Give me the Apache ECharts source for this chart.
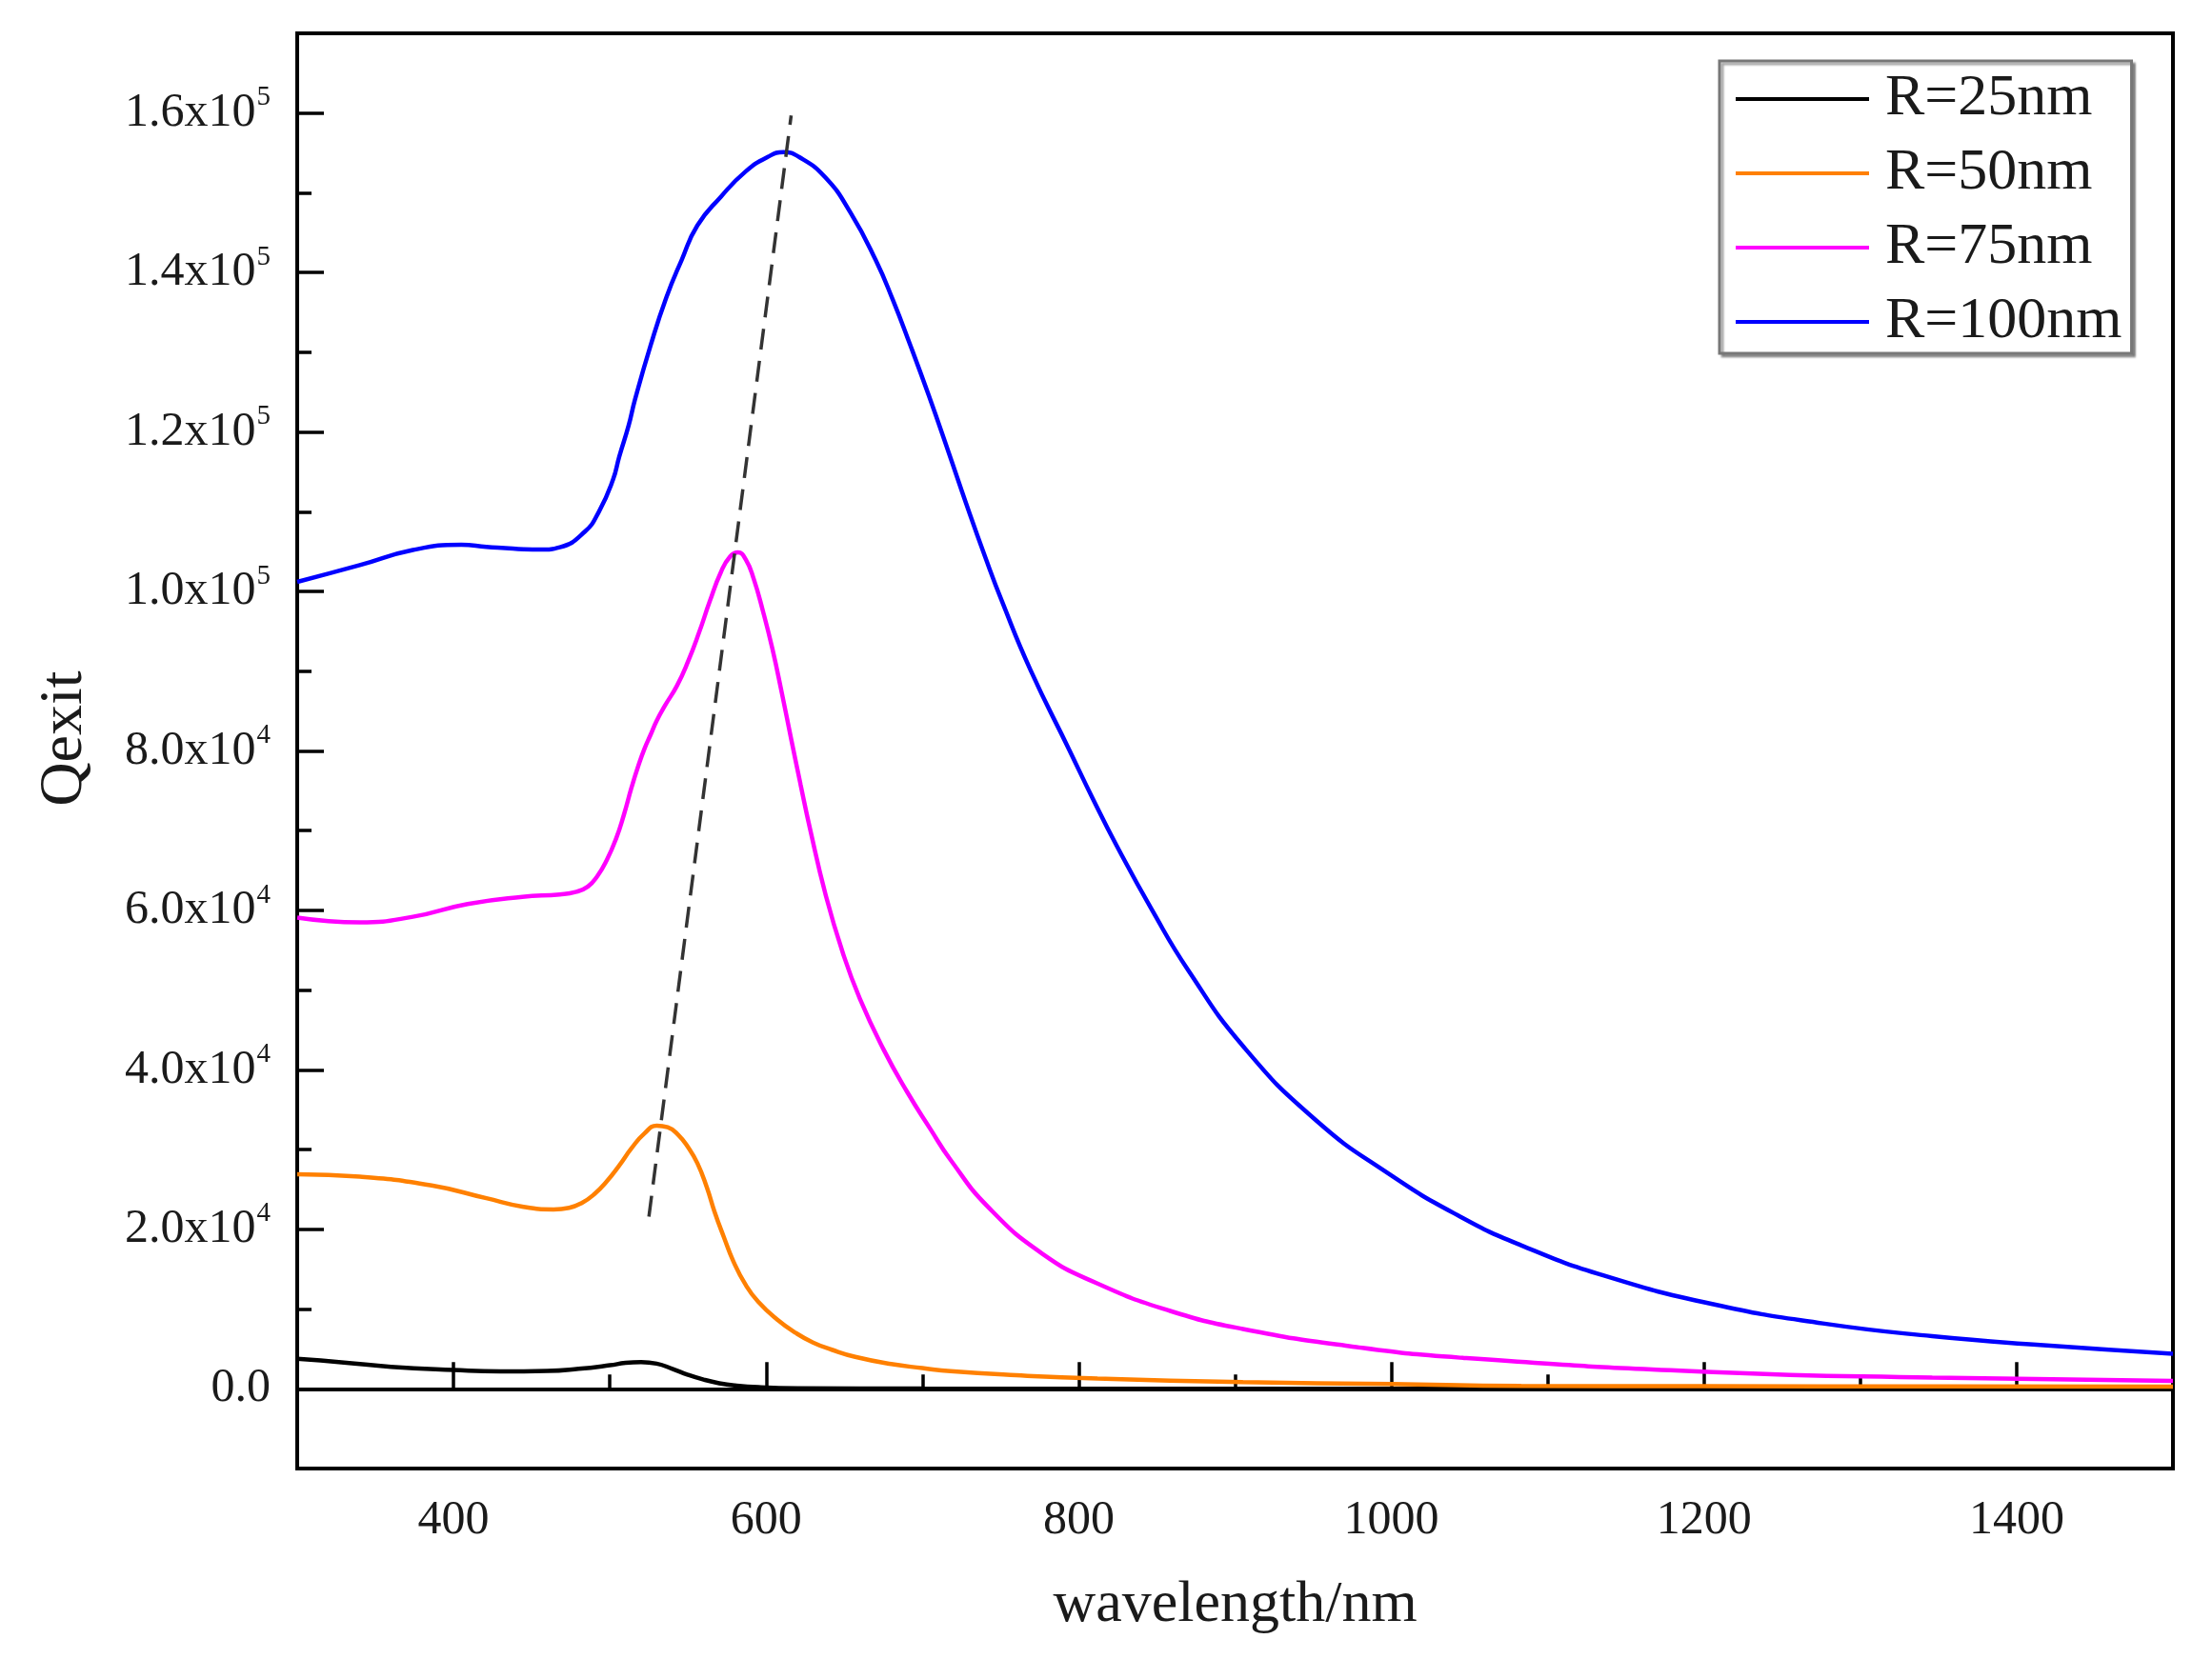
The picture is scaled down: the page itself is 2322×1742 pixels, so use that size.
<!DOCTYPE html>
<html>
<head>
<meta charset="utf-8">
<title>Qexit vs wavelength</title>
<script src="https://cdn.jsdelivr.net/npm/echarts@6/dist/echarts.min.js"></script>
<style>
  html, body { margin: 0; padding: 0; background: #fff; }
  #main { width: 2322px; height: 1742px; }
</style>
</head>
<body>
<div id="main"></div>
<script>
// values
var wl25 = [300, 330, 360, 400, 430, 460, 480, 500, 510, 520, 530, 540, 550, 560, 570, 580, 595, 620, 700, 800, 1000, 1500];
var q25 = [3760, 3300, 2750, 2350, 2170, 2230, 2500, 2950, 3250, 3350, 3150, 2500, 1750, 1150, 700, 420, 200, 70, 20, 10, 5, 0];

var wl50 = [300, 340, 386, 421, 444, 464, 474, 482, 490, 498, 506, 514, 522, 530, 537, 544, 550, 556, 562, 567, 573, 579, 587, 595, 607, 619, 630, 642, 657, 680, 700, 718, 760, 812, 905, 1000, 1083, 1200, 1350, 1500];
var q50 = [26900, 26600, 25500, 23900, 22850, 22500, 22700, 23300, 24400, 26000, 28000, 30200, 32000, 33000, 32800, 31800, 30300, 28300, 25300, 22200, 19000, 16000, 13000, 10900, 8700, 7000, 5800, 4900, 4000, 3100, 2600, 2200, 1700, 1280, 840, 600, 360, 330, 300, 280];

var wl75 = [300, 340, 374, 409, 444, 468, 478, 486, 492, 498, 504, 509, 514, 518, 522, 526, 530, 535, 543, 550, 557, 564, 571, 577, 582, 587, 592, 598, 604, 610, 616, 622, 628, 638, 649, 660, 675, 690, 705, 718, 742, 777, 812, 858, 905, 975, 1044, 1206, 1346, 1500];
var q75 = [59100, 58500, 59200, 60800, 61700, 62000, 62300, 63000, 64300, 66300, 69000, 72000, 75500, 78000, 80200, 82000, 83800, 85600, 88200, 91200, 94800, 98800, 102400, 104400, 104900, 104000, 101600, 97500, 92800, 87300, 81500, 75800, 70300, 62000, 54700, 48900, 42600, 37300, 32600, 28700, 22800, 16900, 13200, 9800, 7500, 5300, 3900, 2100, 1400, 1000];

var wl100 = [300, 340, 374, 405, 421, 433, 445, 456, 468, 484, 493, 502, 506, 512, 516, 526, 536, 546, 556, 571, 587, 601, 611, 621, 638, 654, 670, 681, 692, 704, 717, 728, 740, 751, 769, 794, 809, 824, 847, 870, 905, 951, 998, 1044, 1083, 1136, 1206, 1276, 1346, 1415, 1500];
var q100 = [101200, 103300, 105200, 105850, 105600, 105450, 105300, 105260, 105550, 107500, 110000, 114000, 116900, 120800, 124000, 130800, 136800, 141600, 145900, 149500, 152700, 154500, 155100, 154500, 151900, 147500, 141600, 136600, 131000, 124600, 117300, 111000, 104400, 98700, 90200, 80100, 74000, 68200, 60000, 52500, 43000, 33800, 27000, 21600, 18000, 14200, 10600, 8200, 6600, 5500, 4400];

// dashed guide through the peaks
var guideWl = [525, 616];
var guideQ = [21600, 159700];

var seriesNames = ['R=25nm', 'R=50nm', 'R=75nm', 'R=100nm'];
var seriesColors = ['#000000', '#ff8000', '#ff00ff', '#0000ff'];

var xMajorTicks = [400, 600, 800, 1000, 1200, 1400];
var xMinorTicks = [500, 700, 900, 1100, 1300];
var yMajorTicks = [0, 20000, 40000, 60000, 80000, 100000, 120000, 140000, 160000];
var yMinorTicks = [10000, 30000, 50000, 70000, 90000, 110000, 130000, 150000];
var yTickMantissa = ['0.0', '2.0x10', '4.0x10', '6.0x10', '8.0x10', '1.0x10', '1.2x10', '1.4x10', '1.6x10'];
var yTickExp = ['', '4', '4', '4', '4', '5', '5', '5', '5'];

var pairs = function (xs, ys) {
  return xs.map(function (x, i) { return [x, ys[i]]; });
};

var FONT = '"Liberation Serif", "Times New Roman", serif';
var TXT = '#1a1a1a';

var curveData = [pairs(wl25, q25), pairs(wl50, q50), pairs(wl75, q75), pairs(wl100, q100)];

var series = curveData.map(function (d, i) {
  return {
    name: seriesNames[i],
    type: 'line',
    data: d,
    symbol: 'none',
    showSymbol: false,
    smooth: 0.5,
    lineStyle: { color: seriesColors[i], width: 4.5 },
    itemStyle: { color: seriesColors[i] },
    z: 3 + i
  };
});

series.push({
  name: 'guide',
  type: 'line',
  data: pairs(guideWl, guideQ),
  symbol: 'none',
  lineStyle: { color: '#333', width: 3.5, type: [22, 12] },
  z: 10
});

var chart = echarts.init(document.getElementById('main'));

chart.setOption({
  backgroundColor: '#fff',
  animation: false,
  grid: {
    left: 312, top: 35, width: 1969, height: 1507,
    show: true, borderColor: '#000', borderWidth: 4, backgroundColor: 'transparent'
  },
  legend: {
    data: seriesNames,
    orient: 'vertical',
    left: 1805,
    top: 64,
    padding: [9, 10, 2, 17],
    itemGap: 16,
    itemWidth: 140,
    itemHeight: 4,
    icon: 'rect',
    backgroundColor: '#fff',
    borderColor: '#777',
    borderWidth: 3,
    borderRadius: 0,
    shadowColor: 'rgba(0,0,0,0.35)',
    shadowOffsetX: 3,
    shadowOffsetY: 3,
    shadowBlur: 2,
    textStyle: { fontFamily: FONT, fontSize: 62, color: TXT, padding: [0, 0, 0, 12] }
  },
  xAxis: [{
    type: 'value',
    min: 300,
    max: 1500,
    name: 'wavelength/nm',
    nameLocation: 'middle',
    nameGap: 113,
    nameTextStyle: { fontFamily: FONT, fontSize: 62, color: TXT },
    axisLine: { show: true, lineStyle: { color: '#000', width: 4 } },
    axisTick: { show: true, inside: true, length: 28, customValues: xMajorTicks, lineStyle: { color: '#000', width: 3.5 } },
    axisLabel: {
      customValues: xMajorTicks,
      margin: 30,
      fontFamily: FONT,
      fontSize: 50,
      color: TXT,
      formatter: function (v) { return String(v); }
    },
    splitLine: { show: false }
  }, {
    type: 'value',
    min: 300,
    max: 1500,
    position: 'bottom',
    axisLine: { show: false },
    axisTick: { show: true, inside: true, length: 15, customValues: xMinorTicks, lineStyle: { color: '#000', width: 3.5 } },
    axisLabel: { show: false },
    splitLine: { show: false }
  }],
  yAxis: [{
    type: 'value',
    min: -10000,
    max: 170000,
    name: 'Qexit',
    nameLocation: 'middle',
    nameGap: 212,
    nameTextStyle: { fontFamily: FONT, fontSize: 64, color: TXT, padding: [0, 0, 0, 26] },
    axisLine: { show: true, lineStyle: { color: '#000', width: 4 } },
    axisTick: { show: true, inside: true, length: 28, customValues: yMajorTicks, lineStyle: { color: '#000', width: 3.5 } },
    axisLabel: {
      customValues: yMajorTicks,
      margin: 28,
      fontFamily: FONT,
      fontSize: 50,
      color: TXT,
      formatter: function (v) {
        var i = yMajorTicks.indexOf(v);
        if (i < 0) return '';
        if (!yTickExp[i]) return '{m|' + yTickMantissa[i] + '}';
        return '{m|' + yTickMantissa[i] + '}{e|' + yTickExp[i] + '}';
      },
      rich: {
        m: { fontFamily: FONT, fontSize: 50, color: TXT },
        e: { fontFamily: FONT, fontSize: 29, color: TXT, padding: [0, 0, 32, 1] }
      }
    },
    splitLine: { show: false }
  }, {
    type: 'value',
    min: -10000,
    max: 170000,
    position: 'left',
    axisLine: { show: false },
    axisTick: { show: true, inside: true, length: 15, customValues: yMinorTicks, lineStyle: { color: '#000', width: 3.5 } },
    axisLabel: { show: false },
    splitLine: { show: false }
  }],
  series: series
});
</script>
</body>
</html>
